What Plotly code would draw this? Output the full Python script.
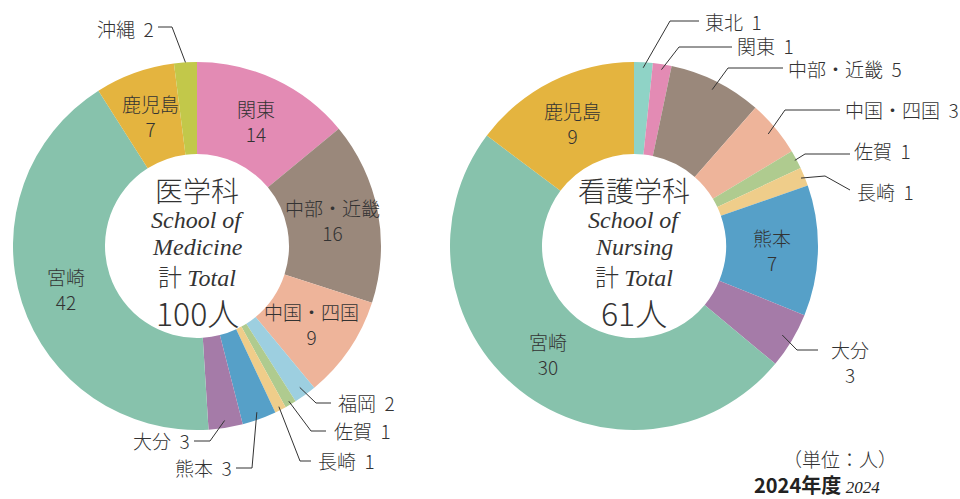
import math
import plotly.graph_objects as go

W, H = 960, 499

# ---------------- data ----------------
med_labels = ["関東", "中部・近畿", "中国・四国", "福岡", "佐賀", "長崎", "熊本", "大分", "宮崎", "鹿児島", "沖縄"]
med_values = [14, 16, 9, 2, 1, 1, 3, 3, 42, 7, 2]
nur_labels = ["東北", "関東", "中部・近畿", "中国・四国", "佐賀", "長崎", "熊本", "大分", "宮崎", "鹿児島"]
nur_values = [1, 1, 5, 3, 1, 1, 7, 3, 30, 9]

med_title = ["医学科", "School of", "Medicine"]
nur_title = ["看護学科", "School of", "Nursing"]
unit_text = "（単位：人）"
year_text = "2024年度"
year_en = "2024"

# ---------------- style ----------------
COLORS = {
    "関東": "#E38BB4", "中部・近畿": "#9A887B", "中国・四国": "#EEB49A", "福岡": "#9DCFE0",
    "佐賀": "#AFCB8F", "長崎": "#EFCD8A", "熊本": "#56A0C8", "大分": "#A57BA8",
    "宮崎": "#87C2AC", "鹿児島": "#E4B43F", "沖縄": "#C2C84A", "東北": "#8FD3C6",
}
SANS = "Noto Sans CJK JP"
SERIF = "Liberation Serif"
TXT = "#333333"

LEFT = dict(cx=197, cy=246, r=184)
RIGHT = dict(cx=634, cy=246, r=184)

# outside labels: elbow point, line end point, text anchor side, text position (pixels)
MED_OUT = {
    "沖縄": dict(f=1.0, elbow=(172, 27), end=(158, 27), side="right", text=(156, 28)),
    "福岡": dict(f=0.95, elbow=(316, 403), end=(331, 403), side="left", text=(336, 402)),
    "佐賀": dict(f=0.98, elbow=(311, 431), end=(326, 431), side="left", text=(332, 430)),
    "長崎": dict(f=0.98, elbow=(300, 461), end=(311, 461), side="left", text=(316, 460)),
    "熊本": dict(f=0.96, elbow=(252, 468), end=(236, 468), side="right", text=(234, 467)),
    "大分": dict(f=0.96, elbow=(210, 441), end=(194, 441), side="right", text=(192, 440)),
}
NUR_OUT = {
    "東北": dict(f=0.97, elbow=(670, 21), end=(699, 21), side="left", text=(703, 21)),
    "関東": dict(f=0.97, elbow=(679, 47), end=(732, 47), side="left", text=(735, 46)),
    "中部・近畿": dict(f=0.95, elbow=(728, 68), end=(783, 68), side="left", text=(786, 68)),
    "中国・四国": dict(f=0.95, elbow=(785, 110), end=(840, 110), side="left", text=(843, 109)),
    "佐賀": dict(f=0.99, elbow=(805, 154), end=(850, 154), side="left", text=(852, 151)),
    "長崎": dict(f=0.98, elbow=(825, 176), end=(850, 190), side="left", text=(855, 191)),
    "大分": dict(f=0.94, elbow=(797, 350), end=(818, 350), side="center2", text=(850, 362)),
}


def px(x):
    return x / W


def py(y):
    return 1 - y / H


def domain(g):
    return dict(x=[px(g["cx"] - g["r"]), px(g["cx"] + g["r"])],
                y=[py(g["cy"] + g["r"]), py(g["cy"] - g["r"])])


fig = go.Figure()
for labels, values, g in [(med_labels, med_values, LEFT), (nur_labels, nur_values, RIGHT)]:
    fig.add_trace(go.Pie(
        labels=labels, values=values, sort=False, direction="clockwise", rotation=0,
        hole=0.5, domain=domain(g), textinfo="none", hoverinfo="label+value",
        marker=dict(colors=[COLORS[l] for l in labels], line=dict(width=0)),
        showlegend=False,
    ))

annotations = []
shapes = []


def add_labels(labels, values, g, outside):
    total = sum(values)
    cum = 0
    for lab, v in zip(labels, values):
        ang = math.radians((cum + v / 2) / total * 360)
        cum += v
        if lab in outside:
            o = outside[lab]
            sx = g["cx"] + g["r"] * o["f"] * math.sin(ang)
            sy = g["cy"] - g["r"] * o["f"] * math.cos(ang)
            ex, ey = o["elbow"]
            tx, ty = o["end"]
            shapes.append(dict(type="path", xref="paper", yref="paper",
                               path=f"M {px(sx)} {py(sy)} L {px(ex)} {py(ey)} L {px(tx)} {py(ty)}",
                               line=dict(color=TXT, width=1)))
            lx, ly = o["text"]
            if o["side"] == "center2":
                text, xa = f"{lab}<br>{v}", "center"
            else:
                text, xa = f"{lab}  {v}", o["side"]
            annotations.append(dict(x=px(lx), y=py(ly), xref="paper", yref="paper",
                                    text=text, showarrow=False, xanchor=xa, yanchor="middle",
                                    font=dict(family=SANS, size=19, color=TXT, weight=300)))
        else:
            rr = g["r"] * 0.75
            lx = g["cx"] + rr * math.sin(ang)
            ly = g["cy"] - rr * math.cos(ang)
            annotations.append(dict(x=px(lx), y=py(ly), xref="paper", yref="paper",
                                    text=f"{lab}<br>{v}", showarrow=False,
                                    xanchor="center", yanchor="middle",
                                    font=dict(family=SANS, size=19, color=TXT, weight=300)))


add_labels(med_labels, med_values, LEFT, MED_OUT)
add_labels(nur_labels, nur_values, RIGHT, NUR_OUT)


def add_center(title, total, g):
    cx = g["cx"]
    items = [
        (title[0], SANS, 28, 300, 190),
        (f"<i>{title[1]}</i>", SERIF, 24, 400, 220),
        (f"<i>{title[2]}</i>", SERIF, 24, 400, 247),
        (f"計 <span style='font-family:{SERIF};font-weight:400'><i>Total</i></span>", SANS, 24, 300, 275),
        (f"{total}人", SANS, 32, 300, 312),
    ]
    for text, fam, size, wt, y in items:
        annotations.append(dict(x=px(cx), y=py(y), xref="paper", yref="paper", text=text,
                                showarrow=False, xanchor="center", yanchor="middle",
                                font=dict(family=fam, size=size, color=TXT, weight=wt)))


add_center(med_title, sum(med_values), LEFT)
add_center(nur_title, sum(nur_values), RIGHT)

annotations.append(dict(x=px(840), y=py(458), xref="paper", yref="paper", text=unit_text,
                        showarrow=False, xanchor="center", yanchor="middle",
                        font=dict(family=SANS, size=19, color=TXT, weight=300)))
annotations.append(dict(x=px(817), y=py(484), xref="paper", yref="paper",
                        text=f"<b>{year_text}</b> <span style='font-family:{SERIF};font-size:17px'><i>{year_en}</i></span>",
                        showarrow=False, xanchor="center", yanchor="middle",
                        font=dict(family=SANS, size=20, color="#222222")))

fig.update_layout(
    width=W, height=H, margin=dict(l=0, r=0, t=0, b=0),
    paper_bgcolor="white", plot_bgcolor="white",
    annotations=annotations, shapes=shapes,
)

fig.write_html("out.html", config={"displayModeBar": False},
               post_script="document.body.style.margin='0';document.body.style.overflow='hidden';")
